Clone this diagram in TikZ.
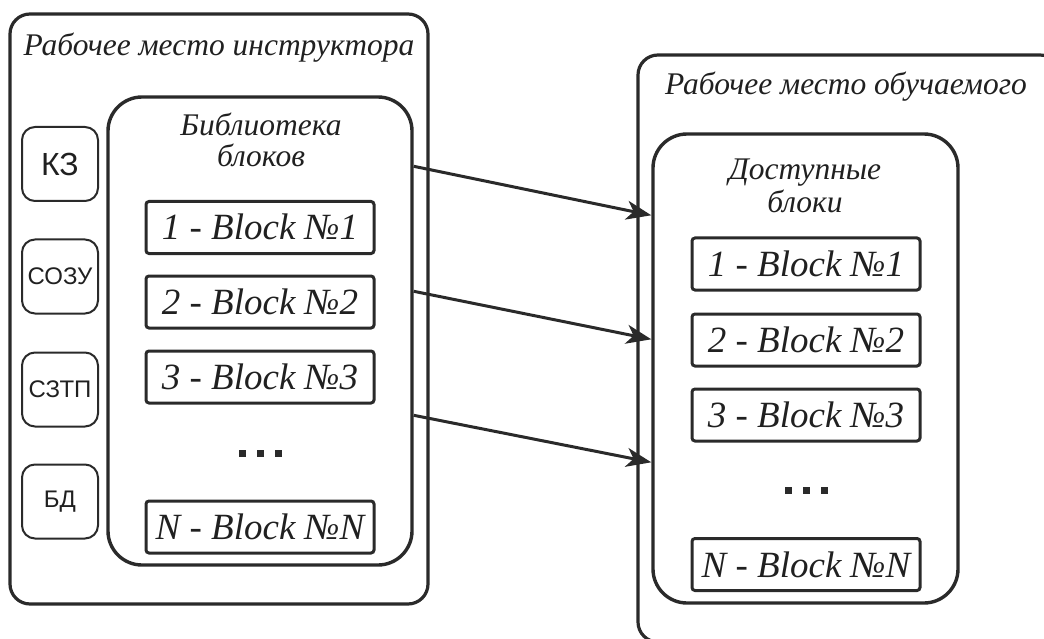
\documentclass[tikz,border=0pt]{standalone}
\usepackage{fontspec}
\setmainfont{Liberation Serif}
\newfontfamily\sansf{Liberation Sans}
\usetikzlibrary{arrows.meta}
\definecolor{ink}{HTML}{2A2A2A}
\definecolor{txt}{HTML}{202020}
\tikzset{
  panel/.style={draw=ink, line width=3.2pt, rounded corners=20pt, inner sep=0pt},
  group/.style={draw=ink, line width=3.4pt, rounded corners=34pt, inner sep=0pt},
  blockbox/.style={draw=ink, line width=3pt, rounded corners=3pt, minimum width=228pt, minimum height=52pt,
    inner sep=0pt, text height=25pt, text depth=0pt, text=txt,
    font=\fontsize{37}{37}\selectfont\itshape},
  tool/.style={draw=ink, line width=2pt, rounded corners=13pt, minimum width=76pt, minimum height=74pt,
    inner sep=0pt, text=txt, font=\sansf\fontsize{24}{24}\selectfont},
  ttl/.style={anchor=base, inner sep=0pt, text=txt, font=\fontsize{31.5}{31.5}\selectfont\itshape},
  dots/.style={inner sep=0pt, text=ink},
  conn/.style={draw=ink, line width=3pt, -{Stealth[length=25pt,width=19pt,inset=7pt]}}
}
\newcommand{\sqdots}{\rule{7pt}{7pt}\hspace{11pt}\rule{7pt}{7pt}\hspace{11pt}\rule{7pt}{7pt}}
\begin{document}
\begin{tikzpicture}[x=1pt,y=-1pt]
\useasboundingbox (0,0) rectangle (1044,639);
\clip (0,0) rectangle (1044,639);
% instructor workplace
\node[panel, minimum width=418pt, minimum height=590pt] (instr) at (219,309) {};
\node[ttl] (instrT) at (219,56) {Рабочее место инструктора};
\node[group, minimum width=304pt, minimum height=468pt] (lib) at (260,331) {};
\node[ttl] (libT1) at (261,136) {Библиотека};
\node[ttl] (libT2) at (261,166.5) {блоков};
\node[blockbox] (l1) at (260,227.5) {1 - Block №1};
\node[blockbox] (l2) at (260,302) {2 - Block №2};
\node[blockbox] (l3) at (260,377) {3 - Block №3};
\node[dots] (ld) at (260,453) {\sqdots};
\node[blockbox] (lN) at (260,527) {N - Block №N};
\node[tool, font=\sansf\fontsize{32}{32}\selectfont] (kz) at (60,164) {КЗ};
\node[tool] (sozu) at (60,276.5) {СОЗУ};
\node[tool] (sztp) at (60,389.5) {СЗТП};
\node[tool] (bd) at (60,501.5) {БД};
% trainee workplace
\node[panel, minimum width=422pt, minimum height=587pt] (train) at (849,348.5) {};
\node[ttl] (trainT) at (846,95) {Рабочее место обучаемого};
\node[group, minimum width=305pt, minimum height=469pt] (avail) at (805.5,368.5) {};
\node[ttl] (availT1) at (805,180) {Доступные};
\node[ttl] (availT2) at (805,213) {блоки};
\node[blockbox] (r1) at (806,264) {1 - Block №1};
\node[blockbox] (r2) at (806,340) {2 - Block №2};
\node[blockbox] (r3) at (806,415) {3 - Block №3};
\node[dots] (rd) at (806,490) {\sqdots};
\node[blockbox] (rN) at (806,564.5) {N - Block №N};
% connectors
\draw[conn] ([yshift=-71pt]lib.north east) -- ([yshift=-83pt]avail.north west);
\draw[conn] ([yshift=-196pt]lib.north east) -- ([yshift=-207pt]avail.north west);
\draw[conn] ([yshift=-320pt]lib.north east) -- ([yshift=-330pt]avail.north west);
\end{tikzpicture}
\end{document}
